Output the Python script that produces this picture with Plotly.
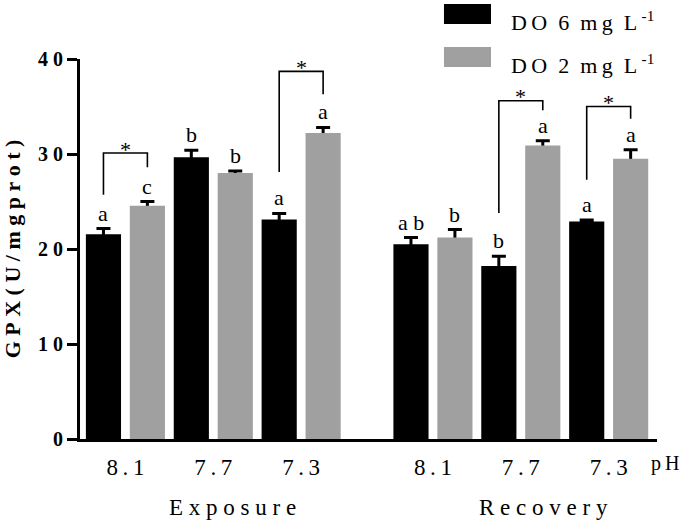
import plotly.graph_objects as go

# ---------------- data ----------------
ph_labels = ["8.1", "7.7", "7.3", "8.1", "7.7", "7.3"]
positions = [0, 1, 2, 3.5, 4.5, 5.5]          # category slots (gap between the two phases)
groups = ["Exposure", "Recovery"]

do6_values = [21.55, 29.65, 23.1, 20.5, 18.2, 22.9]
do6_errors = [0.6, 0.75, 0.65, 0.7, 1.05, 0.15]
do2_values = [24.55, 28.0, 32.2, 21.2, 30.9, 29.5]
do2_errors = [0.45, 0.2, 0.6, 0.85, 0.5, 0.95]

do6_letters = ["a", "b", "a", "a b", "b", "a"]
do2_letters = ["c", "b", "a", "b", "a", "a"]

sig_index = [0, 2, 4, 5]
bracket_top = [30.1, 38.7, 35.6, 35.0]
bracket_left_end = [25.7, 28.1, 23.8, 27.3]
bracket_right_end = [28.6, 36.3, 34.6, 33.7]

y_ticks = [0, 10, 20, 30, 40]

# ---------------- style ----------------
FONT = "Liberation Serif"
BLACK = "#000000"
GRAY = "#a0a0a0"
TS = "\u2009"
NB = "\u00a0"

bargap = 0.0
bargroupgap = 0.2
half = (1 - bargap) / 4  # offset of each bar centre from category centre

def spaced(s, sep=TS):
    return sep.join(list(s))

fig = go.Figure()

err_style = dict(type="data", color=BLACK, thickness=3, width=7, visible=True)

fig.add_trace(go.Bar(
    x=positions, y=do6_values, offsetgroup="do6", marker=dict(color=BLACK, line=dict(width=0)),
    error_y=dict(array=do6_errors, **err_style), showlegend=False, hoverinfo="skip"))
# error bars of the DO 2 series (drawn under its bars so only the upper half shows)
fig.add_trace(go.Bar(
    x=positions, y=do2_values, offsetgroup="do2", marker=dict(color="rgba(0,0,0,0)", line=dict(width=0)),
    error_y=dict(array=do2_errors, **err_style), showlegend=False, hoverinfo="skip"))
fig.add_trace(go.Bar(
    x=positions, y=do2_values, offsetgroup="do2", marker=dict(color=GRAY, line=dict(width=0)),
    showlegend=False, hoverinfo="skip"))

annotations = []
shapes = []

# letters above error bars
for p, v, e, t in zip(positions, do6_values, do6_errors, do6_letters):
    annotations.append(dict(x=p - half, y=v + e, text=t, showarrow=False, yanchor="bottom",
                            yshift=1, font=dict(family=FONT, size=22, color=BLACK)))
for p, v, e, t in zip(positions, do2_values, do2_errors, do2_letters):
    annotations.append(dict(x=p + half, y=v + e, text=t, showarrow=False, yanchor="bottom",
                            yshift=1, font=dict(family=FONT, size=22, color=BLACK)))

# significance brackets
for i, top, le, re in zip(sig_index, bracket_top, bracket_left_end, bracket_right_end):
    xl = positions[i] - half
    xr = positions[i] + half
    shapes.append(dict(type="path", xref="x", yref="y",
                       path=f"M {xl},{le} L {xl},{top} L {xr},{top} L {xr},{re}",
                       line=dict(color=BLACK, width=1.6)))
    annotations.append(dict(x=positions[i], y=top, text="*", showarrow=False, yanchor="middle",
                            yshift=4, font=dict(family=FONT, size=22, color=BLACK)))

# group labels
grp_centers = [(positions[0] + positions[2]) / 2 + 0.22, (positions[3] + positions[5]) / 2 + 0.26]
for gx, g in zip(grp_centers, groups):
    annotations.append(dict(x=gx, y=-0.181, xref="x", yref="paper", text=spaced(g, NB),
                            showarrow=False, yanchor="middle",
                            font=dict(family=FONT, size=23, color=BLACK)))

# pH label
annotations.append(dict(x=1.0, y=-0.065, xref="paper", yref="paper", text="p" + TS + "H",
                        showarrow=False, xanchor="left", yanchor="middle", xshift=-8,
                        font=dict(family=FONT, size=20, color=BLACK)))

# legend (drawn manually)
legend_items = [("6", BLACK, 1.1447, 1.0921, 1.100), ("2", GRAY, 1.0316, 0.9789, 0.988)]
for num, col, y1, y0, yt in legend_items:
    shapes.append(dict(type="rect", xref="paper", yref="paper", x0=0.6308, x1=0.7123,
                       y0=y0, y1=y1, fillcolor=col, line=dict(width=0)))
    txt = "D" + TS + "O" + NB + NB + num + NB + NB + "m" + TS + "g" + NB + NB + "L" + TS + "<sup>-1</sup>"
    annotations.append(dict(x=0.7487, y=yt, xref="paper", yref="paper", text=txt,
                            showarrow=False, xanchor="left", yanchor="middle", xshift=-3,
                            font=dict(family=FONT, size=22, color=BLACK)))

fig.update_layout(
    width=685, height=522,
    margin=dict(l=80, r=28, t=59, b=83, autoexpand=False),
    paper_bgcolor="white", plot_bgcolor="white",
    barmode="group", bargap=bargap, bargroupgap=bargroupgap,
    showlegend=False,
    annotations=annotations, shapes=shapes,
    font=dict(family=FONT, color=BLACK),
)

fig.update_xaxes(
    range=[-0.517, 6.05], tickvals=positions, ticktext=[spaced(t) for t in ph_labels],
    ticks="outside", ticklen=5, tickcolor="rgba(0,0,0,0)",
    tickfont=dict(family=FONT, size=23, color=BLACK),
    showline=True, linecolor=BLACK, linewidth=3, showgrid=False, zeroline=False,
)
fig.update_yaxes(
    range=[0, 40], tickvals=y_ticks, ticktext=[NB.join(list(str(v))) for v in y_ticks],
    ticks="outside", ticklen=10, tickwidth=3, tickcolor=BLACK,
    tickfont=dict(family=FONT, size=20, color=BLACK, weight="bold"),
    showline=True, linecolor=BLACK, linewidth=3, showgrid=False, zeroline=False,
    title=dict(text=spaced("GPX(U/mgprot)", NB), standoff=14,
               font=dict(family=FONT, size=22, color=BLACK, weight="bold")),
)

fig.write_html("out.html", config={"displayModeBar": False},
               post_script="document.body.style.margin='0';document.body.style.overflow='hidden';")
